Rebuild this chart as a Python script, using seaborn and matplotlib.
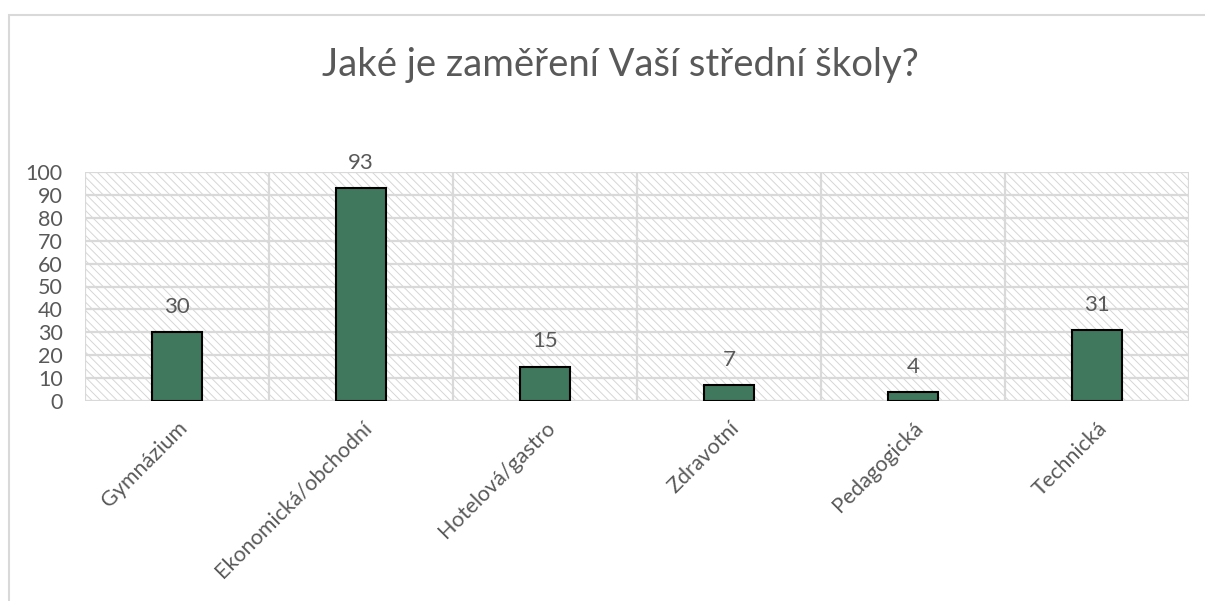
import matplotlib
matplotlib.use("Agg")
import matplotlib.pyplot as plt
import seaborn as sns
import pandas as pd
from matplotlib.patches import Rectangle

categories = ["Gymnázium", "Ekonomická/obchodní", "Hotelová/gastro", "Zdravotní", "Pedagogická", "Technická"]
values = [30, 93, 15, 7, 4, 31]
yticks = [0, 10, 20, 30, 40, 50, 60, 70, 80, 90, 100]
title = "Jaké je zaměření Vaší střední školy?"

sns.set_theme(style="white")
plt.rcParams['font.family'] = ['Lato', 'DejaVu Sans']
plt.rcParams['hatch.linewidth'] = 0.7

TEXT = "#595959"
GRID = "#d9d9d9"
BAR = "#3f785c"

fig = plt.figure(figsize=(12.05, 6.01), dpi=100)
fig.patch.set_facecolor("white")
# chart border
fig.add_artist(Rectangle((8.5 / 1205, -0.05), 1.2, 1 - 15.5 / 601 + 0.05,
                         transform=fig.transFigure, fill=False,
                         edgecolor=GRID, linewidth=1.5))

ax = fig.add_axes([85 / 1205, 1 - 401 / 601, (1189 - 85) / 1205, (401 - 172) / 601])
ax.set_facecolor("white")
ax.add_patch(Rectangle((0, 0), 1, 1, transform=ax.transAxes, facecolor="white",
                       edgecolor="#d6d6d6", hatch="\\\\\\\\", linewidth=0, zorder=0))

df = pd.DataFrame({"cat": categories, "val": values})
sns.barplot(data=df, x="cat", y="val", color=BAR, edgecolor="black", linewidth=1.5,
            width=0.27, saturation=1, ax=ax, zorder=3)

ax.set_xlim(-0.5, len(categories) - 0.5)
ax.set_ylim(0, 100)
for y in yticks:
    ax.axhline(y, color=GRID, linewidth=1.6, zorder=1)
for i in range(len(categories) + 1):
    ax.axvline(i - 0.5, color=GRID, linewidth=1.6, zorder=1)

for s in ax.spines.values():
    s.set_visible(False)

ax.set_yticks(yticks)
ax.set_yticklabels([str(v) for v in yticks], fontsize=15.5, color=TEXT)
ax.tick_params(axis="y", length=0, pad=16)
ax.tick_params(axis="x", length=0, pad=12)
ax.set_xticks(range(len(categories)))
ax.set_xticklabels(categories, rotation=45, ha="right", rotation_mode="anchor",
                   fontsize=15.5, color=TEXT)
ax.set_xlabel("")
ax.set_ylabel("")

for c in ax.containers:
    ax.bar_label(c, labels=[str(v) for v in values], padding=11, fontsize=16, color=TEXT)

fig.text(620 / 1205, 1 - 65 / 601, title, ha="center", va="center", fontsize=27.5, color=TEXT)

fig.savefig("out.png", dpi=100, facecolor="white")
